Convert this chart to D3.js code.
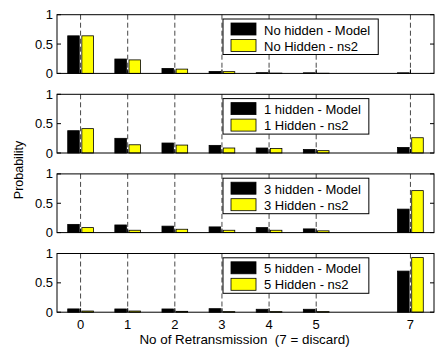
<!DOCTYPE html>
<html>
<head>
<meta charset="utf-8">
<script src="https://cdn.jsdelivr.net/npm/d3@7"></script>
<style>
  body { margin: 0; background: #fff; }
  svg { display: block; font-family: "Liberation Sans", Arial, sans-serif; }
  .tick-label { font-size: 13px; fill: #000; }
  .legend-text { font-size: 13px; fill: #000; }
  .axis-title { font-size: 12.5px; fill: #000; white-space: pre; }
</style>
</head>
<body>
<div id="container-1"></div>
<script>
let categories = [0, 1, 2, 3, 4, 5, 7];
let yTicks = [0, 0.5, 1];
let modelLabels = ["No hidden - Model", "1 hidden - Model", "3 hidden - Model", "5 hidden - Model"];
let ns2Labels = ["No Hidden - ns2", "1 Hidden - ns2", "3 Hidden - ns2", "5 Hidden - ns2"];
let modelValues = [
  [0.64, 0.245, 0.085, 0.034, 0.012, 0.010, 0.010],
  [0.38, 0.25, 0.17, 0.13, 0.085, 0.06, 0.095],
  [0.14, 0.13, 0.11, 0.097, 0.085, 0.063, 0.40],
  [0.056, 0.055, 0.055, 0.06, 0.05, 0.05, 0.70]
];
let ns2Values = [
  [0.64, 0.23, 0.073, 0.03, 0.005, 0.003, 0.0],
  [0.415, 0.14, 0.135, 0.085, 0.078, 0.04, 0.26],
  [0.085, 0.04, 0.057, 0.04, 0.04, 0.03, 0.715],
  [0.02, 0.02, 0.015, 0.01, 0.01, 0.01, 0.93]
];
let xTitle = "No of Retransmission  (7 = discard)";
let yTitle = "Probability";

const WIDTH = 435;
const HEIGHT = 349;
const LEFT = 57;
const RIGHT = 434;
const PANEL_TOP = 14.7;
const PANEL_STEP = 79.6;
const PANEL_H = 58.7;
const BAR_W = 0.245;
const BAR_OFF = 0.15;

window.onload = function() {
  let svg = d3.select("#container-1")
    .append("svg")
    .attr("width", WIDTH)
    .attr("height", HEIGHT);

  let x = d3.scaleLinear().domain([-0.5, 7.5]).range([LEFT, RIGHT]);

  for (let i = 0; i < modelValues.length; i++) {
    drawPanel(svg, x, i);
  }

  // x tick labels (bottom panel only)
  let lastBottom = PANEL_TOP + 3 * PANEL_STEP + PANEL_H;
  svg.append("g")
    .selectAll("text")
    .data(categories)
    .enter()
    .append("text")
    .attr("class", "tick-label")
    .attr("x", d => x(d))
    .attr("y", lastBottom + 16.5)
    .attr("text-anchor", "middle")
    .text(d => d);

  svg.append("text")
    .attr("class", "axis-title")
    .attr("x", (LEFT + RIGHT) / 2 - 1)
    .attr("y", lastBottom + 31.5)
    .attr("text-anchor", "middle")
    .style("font-size", "13.4px")
    .text(xTitle);

  svg.append("text")
    .attr("class", "axis-title")
    .attr("transform", "translate(23,170) rotate(-90)")
    .attr("text-anchor", "middle")
    .text(yTitle);
};

function drawPanel(svg, x, i) {
  let top = PANEL_TOP + i * PANEL_STEP;
  let y = d3.scaleLinear().domain([0, 1]).range([top + PANEL_H, top]);
  let g = svg.append("g");

  g.append("rect")
    .attr("x", LEFT).attr("y", top)
    .attr("width", RIGHT - LEFT).attr("height", PANEL_H)
    .attr("fill", "#fff");

  // dashed grid lines
  g.selectAll("line.grid")
    .data(categories)
    .enter()
    .append("line")
    .attr("class", "grid")
    .attr("x1", d => x(d)).attr("x2", d => x(d))
    .attr("y1", top).attr("y2", top + PANEL_H)
    .attr("stroke", "#333")
    .attr("stroke-width", 0.9)
    .attr("stroke-dasharray", "5,3");

  // x ticks inside
  g.selectAll("line.xt")
    .data(categories)
    .enter()
    .append("line")
    .attr("x1", d => x(d)).attr("x2", d => x(d))
    .attr("y1", top + PANEL_H).attr("y2", top + PANEL_H - 4)
    .attr("stroke", "#000");

  // bars
  let rows = categories.map((c, j) => ({ c: c, m: modelValues[i][j], n: ns2Values[i][j] }));
  let bw = x(BAR_W) - x(0);
  g.selectAll("rect.model")
    .data(rows)
    .enter()
    .append("rect")
    .attr("x", d => x(d.c - BAR_OFF) - bw / 2)
    .attr("y", d => y(d.m))
    .attr("width", bw)
    .attr("height", d => y(0) - y(d.m))
    .attr("fill", "#000")
    .attr("stroke", "#000")
    .attr("stroke-width", 0.8);

  g.selectAll("rect.ns2")
    .data(rows)
    .enter()
    .append("rect")
    .attr("x", d => x(d.c + BAR_OFF) - bw / 2)
    .attr("y", d => y(d.n))
    .attr("width", bw)
    .attr("height", d => y(0) - y(d.n))
    .attr("fill", "#ffff00")
    .attr("stroke", "#000")
    .attr("stroke-width", 0.8);

  // y ticks
  g.selectAll("line.yl")
    .data(yTicks)
    .enter()
    .append("line")
    .attr("x1", LEFT).attr("x2", LEFT + 4)
    .attr("y1", d => y(d)).attr("y2", d => y(d))
    .attr("stroke", "#000");
  g.selectAll("line.yr")
    .data(yTicks)
    .enter()
    .append("line")
    .attr("x1", RIGHT - 4).attr("x2", RIGHT)
    .attr("y1", d => y(d)).attr("y2", d => y(d))
    .attr("stroke", "#000");
  g.selectAll("text.yt")
    .data(yTicks)
    .enter()
    .append("text")
    .attr("class", "tick-label")
    .attr("x", LEFT - 4)
    .attr("y", d => y(d) + 4.5)
    .attr("text-anchor", "end")
    .text(d => d);

  // axes box
  g.append("rect")
    .attr("x", LEFT).attr("y", top)
    .attr("width", RIGHT - LEFT).attr("height", PANEL_H)
    .attr("fill", "none")
    .attr("stroke", "#000")
    .attr("stroke-width", 1);

  setLegend(g, top, i);
}

function setLegend(g, top, i) {
  let lx = 223;
  let ly = top + 4.3;
  let leg = g.append("g").attr("transform", "translate(" + lx + "," + ly + ")");
  let box = leg.append("rect")
    .attr("height", 35.5)
    .attr("fill", "#fff")
    .attr("stroke", "#000")
    .attr("stroke-width", 1);

  let items = [
    { label: modelLabels[i], color: "#000" },
    { label: ns2Labels[i], color: "#ffff00" }
  ];
  leg.selectAll("rect.sw")
    .data(items)
    .enter()
    .append("rect")
    .attr("x", 8)
    .attr("y", (d, k) => 4 + k * 16.5)
    .attr("width", 25)
    .attr("height", 12)
    .attr("fill", d => d.color)
    .attr("stroke", "#000")
    .attr("stroke-width", 0.8);

  let texts = leg.selectAll("text")
    .data(items)
    .enter()
    .append("text")
    .attr("class", "legend-text")
    .attr("x", 41)
    .attr("y", (d, k) => 15.5 + k * 16)
    .text(d => d.label);

  let maxW = 0;
  texts.each(function() {
    maxW = Math.max(maxW, this.getComputedTextLength());
  });
  box.attr("width", 41 + maxW + 8);
}
</script>
</body>
</html>
